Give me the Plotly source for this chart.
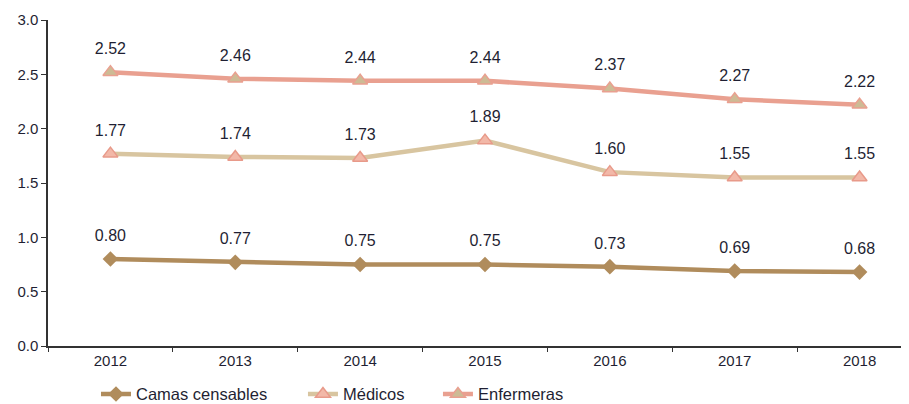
import plotly.graph_objects as go

years = ["2012", "2013", "2014", "2015", "2016", "2017", "2018"]
camas = [0.80, 0.77, 0.75, 0.75, 0.73, 0.69, 0.68]
medicos = [1.77, 1.74, 1.73, 1.89, 1.60, 1.55, 1.55]
enfermeras = [2.52, 2.46, 2.44, 2.44, 2.37, 2.27, 2.22]

FONT = "Liberation Sans, Arial, sans-serif"
TXT = "#1F1F33"

fig = go.Figure()
fig.add_trace(go.Scatter(
    x=years, y=camas, name="Camas censables", mode="lines+markers",
    line=dict(color="#B08C5C", width=4.5),
    marker=dict(symbol="diamond", size=12, color="#B08C5C"),
    legend="legend",
))
fig.add_trace(go.Scatter(
    x=years, y=medicos, name="Médicos", mode="lines+markers",
    line=dict(color="#D8C5A0", width=4.5),
    marker=dict(symbol="triangle-up", size=13, color="#F2B8A8",
                line=dict(color="#E89A8A", width=1.5)),
    legend="legend2",
))
fig.add_trace(go.Scatter(
    x=years, y=enfermeras, name="Enfermeras", mode="lines+markers",
    line=dict(color="#E9A090", width=4.5),
    marker=dict(symbol="triangle-up", size=13, color="#CDBB95",
                line=dict(color="#E9A090", width=1.5)),
    legend="legend3",
))

# data labels (invisible markers push the text above each point)
for series in (camas, medicos, enfermeras):
    fig.add_trace(go.Scatter(
        x=years, y=series, mode="markers+text",
        text=[f"{v:.2f}" for v in series], textposition="top center",
        textfont=dict(family=FONT, size=16, color=TXT),
        marker=dict(size=21, opacity=0),
        showlegend=False, hoverinfo="skip",
    ))

leg_common = dict(orientation="h", xref="container", yref="container",
                  yanchor="middle", y=0.044, xanchor="left",
                  font=dict(family=FONT, size=16.5, color=TXT),
                  bgcolor="rgba(0,0,0,0)")
fig.update_layout(
    width=909, height=404,
    margin=dict(l=39.5, r=0, t=12, b=66),
    paper_bgcolor="white", plot_bgcolor="white",
    font=dict(family=FONT, size=15, color=TXT),
    showlegend=True,
    legend=dict(x=0.0968, **leg_common),
    legend2=dict(x=0.3245, **leg_common),
    legend3=dict(x=0.4730, **leg_common),
    xaxis=dict(
        type="category", range=[-0.5, 6.46], automargin=False,
        showline=True, linecolor="#333333", linewidth=1.5,
        ticks="outside", ticklen=4, tickcolor="#333333",
        tickson="boundaries", showgrid=False, zeroline=False,
        tickfont=dict(size=15),
    ),
    yaxis=dict(
        range=[0, 3.0], dtick=0.5, tickformat=".1f", automargin=False,
        showline=True, linecolor="#333333", linewidth=1.5,
        ticks="outside", ticklen=5, tickcolor="#333333",
        showgrid=False, zeroline=False, tickfont=dict(size=15),
    ),
)

fig.write_html("out.html")
